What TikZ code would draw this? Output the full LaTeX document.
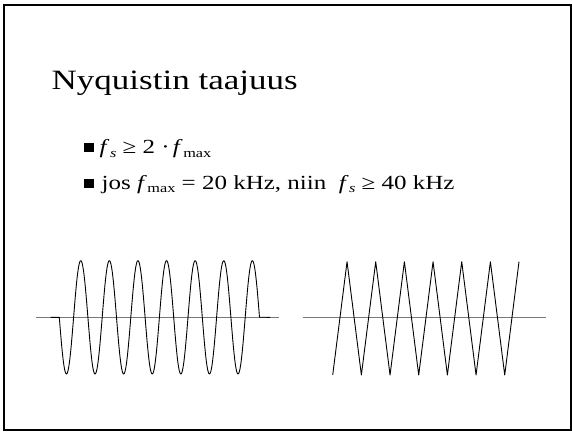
\documentclass[tikz,border=0pt]{standalone}
\usepackage{fontspec}
\usepackage{amsmath}
\setmainfont[FakeStretch=1.25]{Liberation Serif}
\usetikzlibrary{positioning}
\definecolor{framecolor}{RGB}{0, 0, 0}
\definecolor{axiscolor}{RGB}{120, 120, 120}
\definecolor{wavecolor}{RGB}{0, 0, 0}

% subscript a bit below the line, as in the slide
\newcommand{\lowsub}[1]{\raisebox{-0.4ex}{\fontsize{13}{13}\selectfont #1}}
\newcommand{\fsym}{\textit{f}\kern0.5pt}

\begin{document}
\begin{tikzpicture}[
    x=1pt, y=-1pt,
    % Title style
    slidetitle/.style={
        anchor=base west,
        inner sep=0pt,
        font=\fontsize{28}{32}\selectfont
    },
    % Bullet line
    itemtext/.style={
        anchor=base west,
        inner sep=0pt,
        font=\fontsize{20}{24}\selectfont
    },
    % Bullet square
    bulletbox/.style={
        rectangle,
        fill=black,
        inner sep=0pt,
        minimum width=10pt,
        minimum height=9pt
    },
    % Axis line
    axis/.style={
        draw=axiscolor,
        line width=1.2pt
    },
    % Signal
    wave/.style={
        draw=wavecolor,
        line width=0.9pt,
        line join=round
    }
]
\useasboundingbox (0,0) rectangle (572,432);

% Slide frame
\draw[framecolor, line width=2pt] (3.5,5.3) rectangle (570.5,430);

% ============================================
% TITLE AND BULLETS
% ============================================

\node[slidetitle] (title) at (51.5,89.8) {Nyquistin taajuus};

\node[bulletbox] (dot1) at (88.5,147.5) {};
\node[itemtext] (rule) at (99.5,153.5)
    {\fsym\lowsub{\textit{s}} ≥ 2 ·\,\fsym\lowsub{max}};

\node[bulletbox] (dot2) at (88.5,183) {};
\node[itemtext] (example) at (101.5,189)
    {jos \fsym\lowsub{max} = 20 kHz, niin \ \fsym\lowsub{\textit{s}} ≥ 40 kHz};

% ============================================
% SINE WAVE
% ============================================

\coordinate (sinaxisL) at (36,317.3);
\coordinate (sinaxisR) at (279,317.3);
\draw[axis] (sinaxisL) -- (sinaxisR);

\draw[wave] (50.7,317.3) -- (59.3,317.3)
    plot[domain=0:200.2, samples=300] ({59.3+\x}, {317.3+56.7*sin(\x/28.6*360)})
    -- (270,317.3);

% ============================================
% SAMPLED (ZIGZAG) WAVE
% ============================================

\coordinate (zigaxisL) at (302.7,317.3);
\coordinate (zigaxisR) at (546,317.3);
\draw[axis] (zigaxisL) -- (zigaxisR);

\draw[wave] (332.7,375)
    \foreach \k in {1,...,6} {
        -- ({332.7+28.67*\k-14.33},261.7) -- ({332.7+28.67*\k},375)
    }
    -- (519,261.7);

\end{tikzpicture}
\end{document}
